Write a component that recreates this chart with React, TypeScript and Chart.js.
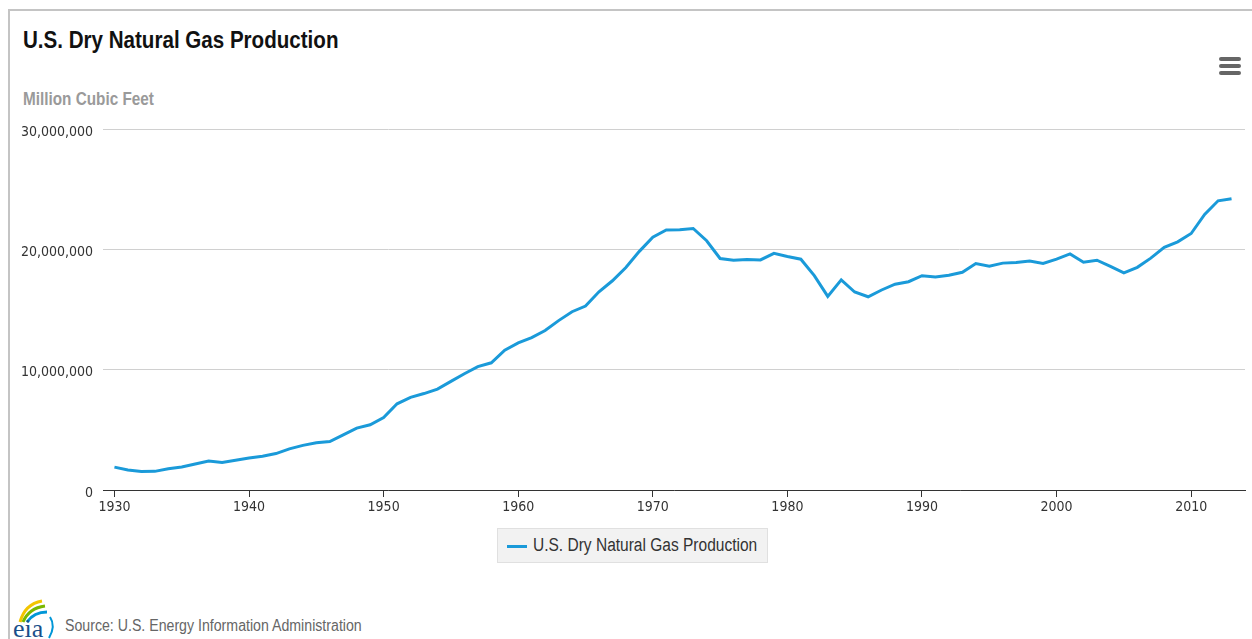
import React, { useEffect, useRef } from "react";
import { Chart, registerables } from "chart.js";

Chart.register(...registerables);

const TITLE = "U.S. Dry Natural Gas Production";
const SUBTITLE = "Million Cubic Feet";
const SERIES_LABEL = "U.S. Dry Natural Gas Production";
const SOURCE = "Source: U.S. Energy Information Administration";

const YEARS = [
  1930, 1931, 1932, 1933, 1934, 1935, 1936, 1937, 1938, 1939,
  1940, 1941, 1942, 1943, 1944, 1945, 1946, 1947, 1948, 1949,
  1950, 1951, 1952, 1953, 1954, 1955, 1956, 1957, 1958, 1959,
  1960, 1961, 1962, 1963, 1964, 1965, 1966, 1967, 1968, 1969,
  1970, 1971, 1972, 1973, 1974, 1975, 1976, 1977, 1978, 1979,
  1980, 1981, 1982, 1983, 1984, 1985, 1986, 1987, 1988, 1989,
  1990, 1991, 1992, 1993, 1994, 1995, 1996, 1997, 1998, 1999,
  2000, 2001, 2002, 2003, 2004, 2005, 2006, 2007, 2008, 2009,
  2010, 2011, 2012, 2013,
];

const PRODUCTION = [
  1903771, 1659614, 1541210, 1548081, 1769712, 1913684, 2163535, 2407620, 2296051, 2476754,
  2660222, 2812658, 3028656, 3415689, 3711035, 3918686, 4030605, 4582173, 5148020, 5419736,
  6022193, 7164706, 7693489, 8014305, 8388398, 9029209, 9663447, 10249742, 10571036, 11619149,
  12228190, 12661034, 13252710, 14077030, 14814681, 15286149, 16467462, 17388182, 18494411, 19831163,
  21014292, 21609987, 21623705, 21730952, 20713032, 19236381, 19098379, 19162900, 19121845, 19663335,
  19403123, 19181189, 17819966, 16093588, 17466477, 16454031, 16058883, 16620827, 17102811, 17310562,
  17809674, 17697802, 17839917, 18095149, 18821158, 18598657, 18853978, 18902066, 19023635, 18832035,
  19182064, 19616137, 18927792, 19098631, 18590861, 18050598, 18503617, 19266414, 20158760, 20623854,
  21315507, 22901879, 24033266, 24205523,
];

const X_TICKS = [1930, 1940, 1950, 1960, 1970, 1980, 1990, 2000, 2010];
const Y_TICKS = [0, 10000000, 20000000, 30000000];

const LINE_COLOR = "#1a9ad9";
const TICK_FONT = '"DejaVu Sans Condensed", "Liberation Sans Narrow", Arial, sans-serif';
const HTML_FONT = '"Liberation Sans", Arial, sans-serif';

function Narrow(props: { left: number; top: number; size: number; scale: number; color: string; bold?: boolean; text: string }) {
  return (
    <div
      style={{
        position: "absolute",
        left: props.left,
        top: props.top,
        fontSize: props.size,
        lineHeight: props.size + "px",
        fontWeight: props.bold ? "bold" : "normal",
        color: props.color,
        whiteSpace: "nowrap",
        transform: "scaleX(" + props.scale + ")",
        transformOrigin: "0 0",
      }}
    >
      {props.text}
    </div>
  );
}

export default function App() {
  const canvasRef = useRef<HTMLCanvasElement | null>(null);

  useEffect(() => {
    const canvas = canvasRef.current;
    if (!canvas) return;
    const chart = new Chart(canvas, {
      type: "line",
      data: {
        datasets: [
          {
            label: SERIES_LABEL,
            data: YEARS.map((y, i) => ({ x: y, y: PRODUCTION[i] })),
            borderColor: LINE_COLOR,
            backgroundColor: LINE_COLOR,
            borderWidth: 3,
            pointRadius: 0,
            tension: 0,
          },
        ],
      },
      options: {
        animation: false,
        responsive: false,
        maintainAspectRatio: false,
        layout: { padding: { left: 0, right: 7, top: 29, bottom: 0 } },
        plugins: {
          legend: { display: false },
          tooltip: { enabled: false },
        },
        scales: {
          x: {
            type: "linear",
            min: 1929.15,
            max: 2014,
            afterBuildTicks: (scale: any) => {
              scale.ticks = X_TICKS.map((v) => ({ value: v }));
            },
            afterFit: (scale: any) => {
              scale.height = 40;
            },
            grid: {
              display: true,
              drawOnChartArea: false,
              drawTicks: true,
              tickLength: 7,
              color: "#333333",
              lineWidth: 1,
            },
            border: { display: true, color: "#333333", width: 1 },
            ticks: {
              color: "#333333",
              padding: 2,
              maxRotation: 0,
              autoSkip: false,
              font: { family: TICK_FONT, size: 14 },
              callback: (v: any) => String(v),
            },
          },
          y: {
            type: "linear",
            min: 0,
            max: 30000000,
            afterBuildTicks: (scale: any) => {
              scale.ticks = Y_TICKS.map((v) => ({ value: v }));
            },
            afterFit: (scale: any) => {
              scale.width = 103;
            },
            grid: {
              color: "#d0d0d0",
              lineWidth: 1,
              drawTicks: false,
            },
            border: { display: false },
            ticks: {
              color: "#333333",
              padding: 10,
              labelOffset: 3,
              font: { family: TICK_FONT, size: 14 },
              callback: (v: any) => Number(v).toLocaleString("en-US"),
            },
          },
        },
      },
    });
    return () => chart.destroy();
  }, []);

  return (
    <div
      style={{
        position: "absolute",
        left: 0,
        top: 0,
        width: 1252,
        height: 639,
        overflow: "hidden",
        background: "#ffffff",
        fontFamily: HTML_FONT,
      }}
    >
      <div
        style={{
          position: "absolute",
          left: 8,
          top: 9,
          width: 1260,
          height: 660,
          borderTop: "2px solid #c4c4c4",
          borderLeft: "2px solid #c4c4c4",
        }}
      />
      <Narrow left={23} top={28} size={24} scale={0.857} color="#111111" bold text={TITLE} />
      <Narrow left={23} top={90} size={18} scale={0.85} color="#9a9a9a" bold text={SUBTITLE} />
      <div style={{ position: "absolute", left: 1219, top: 57 }}>
        {[0, 1, 2].map((i) => (
          <div
            key={i}
            style={{
              width: 22,
              height: 4,
              borderRadius: 2,
              background: "#666666",
              marginBottom: 3,
            }}
          />
        ))}
      </div>
      <canvas
        ref={canvasRef}
        width={1252}
        height={430}
        style={{ position: "absolute", left: 0, top: 100, width: 1252, height: 430 }}
      />
      <div
        style={{
          position: "absolute",
          left: 497,
          top: 528,
          width: 271,
          height: 35,
          boxSizing: "border-box",
          background: "#f2f2f2",
          border: "1px solid #e0e0e0",
        }}
      >
        <div
          style={{
            position: "absolute",
            left: 9,
            top: 16,
            width: 20,
            height: 3,
            background: LINE_COLOR,
          }}
        />
        <Narrow left={35} top={7} size={18} scale={0.862} color="#333333" text={SERIES_LABEL} />
      </div>
      <svg
        width={50}
        height={42}
        style={{ position: "absolute", left: 10, top: 598 }}
        viewBox="0 0 50 42"
      >
        <path d="M10 24 Q 15 6 32 3" stroke="#f2c500" strokeWidth={3} fill="none" />
        <path d="M13 24 Q 19 10 35 8" stroke="#7ab800" strokeWidth={3} fill="none" />
        <path d="M17 24 Q 24 14 37 14" stroke="#0096d7" strokeWidth={3} fill="none" />
        <path d="M40 19 Q 46 28 39 40" stroke="#0096d7" strokeWidth={2} fill="none" />
        <text
          x={3}
          y={39}
          fontFamily="'Liberation Serif', 'DejaVu Serif', serif"
          fontSize={26}
          fill="#1a4f8a"
        >
          eia
        </text>
      </svg>
      <Narrow left={65} top={618} size={16} scale={0.885} color="#666666" text={SOURCE} />
    </div>
  );
}
